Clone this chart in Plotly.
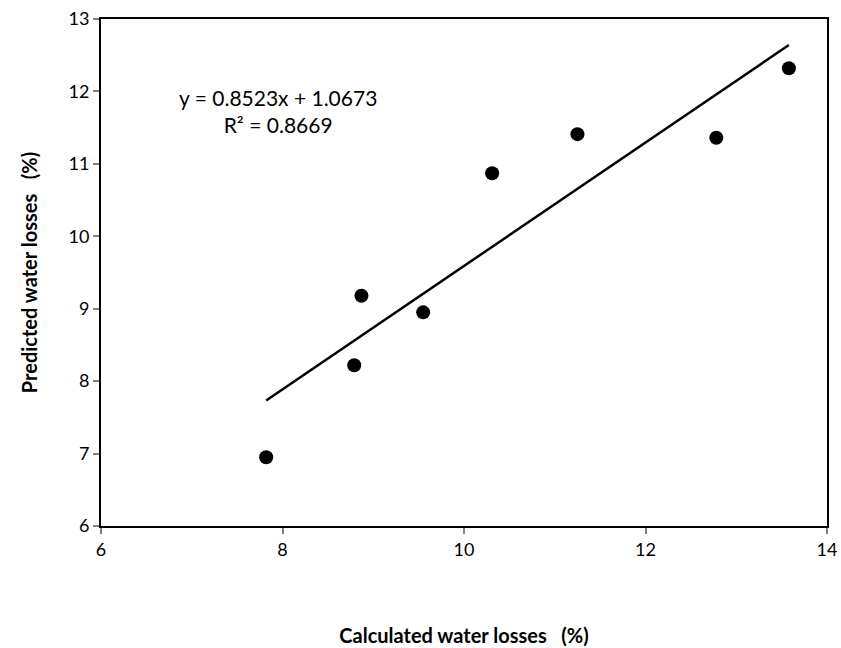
import plotly.graph_objects as go
import numpy as np

calc = [7.82, 8.79, 8.87, 9.55, 10.31, 11.25, 12.78, 13.58]
pred = [6.95, 8.22, 9.18, 8.95, 10.87, 11.41, 11.36, 12.32]
slope = 0.8523
intercept = 1.0673
r2 = 0.8669

xl = np.array([min(calc), max(calc)])
yl = slope * xl + intercept

fig = go.Figure()
fig.add_trace(go.Scatter(x=calc, y=pred, mode="markers",
                         marker=dict(color="black", size=14), showlegend=False))
fig.add_trace(go.Scatter(x=xl, y=yl, mode="lines",
                         line=dict(color="black", width=2.5), showlegend=False))

fig.add_annotation(x=0.244, y=0.818, xref="paper", yref="paper",
                   xanchor="center", yanchor="middle",
                   text=f"y = {slope}x + {intercept}<br>R² = {r2}",
                   showarrow=False, align="center",
                   font=dict(family="Lato", size=21, color="black"))

axis_common = dict(showgrid=False, zeroline=False, showline=True, mirror=True,
                   linecolor="black", linewidth=2, ticks="outside", ticklen=6,
                   tickcolor="#808080", tickwidth=1.5, automargin=False,
                   tickfont=dict(family="Lato", size=18, color="black"))

fig.update_xaxes(range=[6, 14], dtick=2, **axis_common,
                 title=dict(text="<b>Calculated water losses   (%)</b>",
                            font=dict(family="Lato", size=20, color="black"),
                            standoff=70))
fig.update_yaxes(range=[6, 13], dtick=1, **axis_common,
                 title=dict(text="<b>Predicted water losses   (%)</b>",
                            font=dict(family="Lato", size=20, color="black"),
                            standoff=26))

fig.update_layout(width=841, height=648, plot_bgcolor="white", paper_bgcolor="white",
                  margin=dict(l=101, r=14, t=19, b=122))

fig.write_html("out.html", config={"displayModeBar": False},
               post_script="document.body.style.margin='0';document.body.style.overflow='hidden';")
